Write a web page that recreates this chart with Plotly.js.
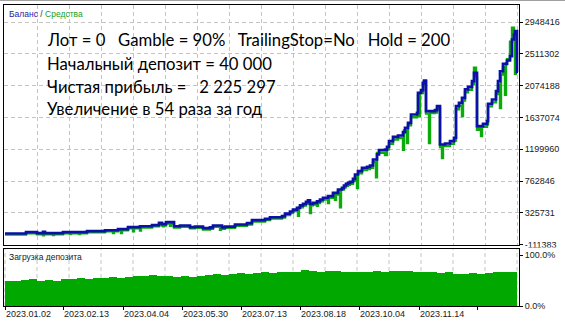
<!DOCTYPE html>
<html>
<head>
<meta charset="utf-8">
<script src="https://cdn.plot.ly/plotly-3.0.1.min.js"></script>
<style>html,body{margin:0;padding:0;background:#fff;}#chart{width:565px;height:323px;}</style>
</head>
<body>
<div id="chart"></div>
<script>
// ---- data (deal index -> account value) ----
const balDeal = [0,21,32,38,40,58,82,100,113,123,135,147,154,157,161,169,175,185,190,198,205,208,217,220,230,242,247,260,265,277,280,285,288,292,295,298,301,303,305,308,312,315,318,323,328,333,337,339,341,343,345,348,350,353,357,362,365,368,372,374,380,382,384,388,393,398,400,403,406,412,413,416,418,419,421,430,432,435,440,445,449,451,454,457,460,463,467,469,472,478,482,483,487,491,493,495,498,502,505,507,509,510,512,513];
const balance = [40000,58000,44000,62000,44000,58000,72000,85000,99000,127000,140000,154000,187000,168000,196000,140000,150000,127000,136000,113000,123000,150000,123000,136000,164000,182000,223000,242000,264000,278000,315000,343000,370000,394000,426000,449000,475000,498000,449000,463000,481000,508000,532000,554000,600000,646000,669000,701000,724000,738000,752000,793000,852000,898000,945000,958000,976000,1059000,1128000,1187000,1196000,1234000,1311000,1371000,1389000,1435000,1495000,1564000,1678000,1702000,1977000,2013000,2115000,2137000,1724000,1738000,1793000,1265000,1279000,1311000,1358000,1793000,1839000,1908000,2023000,2060000,2137000,2252000,1517000,1550000,1586000,1826000,1885000,1999000,2137000,2274000,2376000,2422000,2481000,2711000,2780000,2825000,2265297,2265297];

const eqDeal = [0,21,32,38,39,48,49,58,65,66,74,75,82,100,108,109,113,116,117,123,128,129,135,136,147,154,157,158,159,161,165,166,169,175,185,190,198,205,208,215,216,220,230,242,247,260,265,277,280,285,288,292,293,294,298,301,303,305,306,308,312,313,315,318,323,324,328,330,331,333,335,336,339,341,343,345,348,350,352,353,357,362,365,368,371,372,380,382,384,388,393,398,399,402,403,406,412,413,414,415,418,419,421,424,425,430,432,435,437,438,445,449,451,454,457,458,460,463,467,469,471,472,474,476,477,482,483,487,491,493,495,496,498,500,501,502,505,507,509,510,512,513];
const equity = [25000,42000,28000,15000,28000,19000,28000,42000,33000,42000,33000,42000,56000,70000,47000,70000,84000,47000,84000,110000,70000,110000,79000,122000,138000,165000,150000,139000,150000,178000,147000,178000,122000,132000,110000,118000,95000,105000,132000,92000,105000,118000,146000,164000,205000,224000,246000,258000,295000,322000,348000,370000,285000,400000,425000,452000,478000,322000,428000,440000,423000,458000,485000,508000,460000,530000,575000,505000,575000,620000,401000,645000,675000,698000,712000,725000,765000,820000,666000,868000,915000,928000,946000,1025000,814000,1150000,1121000,1200000,1275000,1335000,1355000,1194000,1460000,1286000,1530000,1640000,1665000,1940000,1658000,1975000,2090000,2150000,1690000,1286000,1700000,1705000,1760000,1230000,1080000,1245000,1275000,1320000,1750000,1800000,1658000,1870000,1985000,2020000,2100000,2321000,2200000,1469000,1490000,1383000,1510000,1545000,1790000,1845000,1960000,2090000,1768000,2230000,2330000,1951000,2380000,2440000,2680000,2872000,2790000,2240000,2240000];

// deposit load, %, one value per block of 8 deals
const depositLoad = [50,49,51,52,50,51,50,52,53,54,53,54,55,56,55,57,58,59,60,59,58,57,58,57,59,60,62,61,63,64,63,64,66,65,66,67,66,70,69,67,68,68,67,67,66,67,68,67,69,68,68,67,66,66,65,66,63,63,64,63,65,66,66,67];

const yTickVals = [-111383,325731,762846,1199960,1637074,2074188,2511302,2948416];
const yTickText = ['-111383','325731','762846','1199960','1637074','2074188','2511302','2948416'];
const dateTickDeal = [0,58,118,177,236,295,354,414,472];
const dateTickText = ['2023.01.02','2023.02.13','2023.04.04','2023.05.30','2023.07.13','2023.08.18','2023.10.04','2023.11.14',''];
const gridDeal = [0,32,64,96,128,160,192,224,256,288,320,352,384,416,448,480,512];

const textLines = [
  'Лот = 0\u00a0\u00a0\u00a0Gamble = 90%\u00a0\u00a0\u00a0TrailingStop=No\u00a0\u00a0\u00a0Hold = 200',
  'Начальный депозит = 40 000',
  'Чистая прибыль =\u00a0\u00a0\u00a02 225 297',
  'Увеличение в 54 раза за год'
];

// ---- layout helpers ----
const W = 565, H = 323;
const px = v => v / W;
const py = v => (H - v) / H;
const BLUE = '#0c10a8', GREEN = '#0aab0a', GRID = '#c4c4c4';

const loadX = depositLoad.map((_, i) => i * 8 + 4);

const traces = [
  {x: eqDeal, y: equity, type: 'scatter', mode: 'lines', line: {shape: 'hv', color: GREEN, width: 2.4}, xaxis: 'x', yaxis: 'y', hoverinfo: 'skip'},
  {x: balDeal, y: balance, type: 'scatter', mode: 'lines', line: {shape: 'hv', color: BLUE, width: 2.7}, xaxis: 'x', yaxis: 'y', hoverinfo: 'skip'},
  {x: loadX, y: depositLoad, type: 'bar', width: 8, marker: {color: '#00a800', line: {width: 0}}, xaxis: 'x2', yaxis: 'y2', hoverinfo: 'skip'}
];

const tickFont = {family: 'Liberation Sans, Arial, sans-serif', size: 9, color: '#1a1a1a'};
const xDom = [px(4), px(519)];

const shapes = gridDeal.map(g => ({type: 'line', xref: 'x2', yref: 'y2 domain', x0: g, x1: g, y0: 0, y1: 1, line: {color: GRID, width: 1, dash: '4px,3px'}, layer: 'below'}));
shapes.push({type: 'line', xref: 'paper', yref: 'paper', x0: 0, x1: 1, y0: py(0.5), y1: py(0.5), line: {color: '#a0a0a0', width: 1}});
shapes.push({type: 'rect', xref: 'paper', yref: 'paper', x0: px(520), x1: 1, y0: py(250.5), y1: py(247.5), fillcolor: '#ffffff', line: {width: 0}, layer: 'above'});

const annotations = [
  {xref: 'paper', yref: 'paper', x: px(7), y: py(14), xanchor: 'left', yanchor: 'middle', showarrow: false,
   text: '<span style="color:#1c1ca0">Баланс</span> / <span style="color:#18a018">Средства</span>',
   font: {family: 'Liberation Sans, Arial, sans-serif', size: 8.5, color: '#333'}},
  {xref: 'paper', yref: 'paper', x: px(7), y: py(257), xanchor: 'left', yanchor: 'middle', showarrow: false,
   text: 'Загрузка депозита', font: {family: 'Liberation Sans, Arial, sans-serif', size: 8.5, color: '#1a1a1a'}}
];
const lineY = [40, 64, 87, 109];
textLines.forEach((t, i) => annotations.push({
  xref: 'paper', yref: 'paper', x: px(45), y: py(lineY[i]), xanchor: 'left', yanchor: 'middle', showarrow: false,
  text: t, font: {family: 'Lato, sans-serif', size: 16.7, color: '#000'}
}));

const layout = {
  width: W, height: H,
  margin: {l: 0, r: 0, t: 0, b: 0},
  paper_bgcolor: '#fff', plot_bgcolor: '#fff',
  showlegend: false,
  bargap: 0,
  xaxis: {domain: xDom, anchor: 'y', range: [-1, 514], tickmode: 'array', tickvals: gridDeal, showticklabels: false, ticks: '',
          showgrid: true, gridcolor: GRID, griddash: '4px,3px', gridwidth: 1, zeroline: false,
          showline: true, linecolor: '#000', linewidth: 1, mirror: true, automargin: false, fixedrange: true},
  yaxis: {domain: [py(245), py(5)], anchor: 'x', side: 'right', range: [-118267, 3185813], tickmode: 'array', tickvals: yTickVals, ticktext: yTickText,
          ticks: 'outside', ticklen: 3, tickcolor: '#000', tickfont: tickFont, showgrid: true, gridcolor: GRID, griddash: '4px,3px', gridwidth: 1,
          zeroline: false, showline: true, linecolor: '#000', linewidth: 1, mirror: true, automargin: false, fixedrange: true},
  xaxis2: {domain: xDom, anchor: 'y2', range: [-1, 514], tickmode: 'array', tickvals: dateTickDeal, ticktext: dateTickText,
           ticks: 'outside', ticklen: 3, tickcolor: '#000', tickfont: tickFont, ticklabelposition: 'outside right', ticklabelstandoff: -1,
           showgrid: false, zeroline: false,
           showline: true, linecolor: '#000', linewidth: 1, mirror: true, automargin: false, fixedrange: true},
  yaxis2: {domain: [py(306), py(249)], anchor: 'x2', side: 'right', range: [0, 111.8], tickmode: 'array', tickvals: [0, 100], ticktext: ['0.0%', '100.0%'],
           ticks: 'outside', ticklen: 3, tickcolor: '#000', tickfont: tickFont, showgrid: false, zeroline: false,
           showline: true, linecolor: '#000', linewidth: 1, mirror: true, automargin: false, fixedrange: true},
  shapes: shapes,
  annotations: annotations
};

Plotly.newPlot('chart', traces, layout, {staticPlot: true, displayModeBar: false});
</script>
</body>
</html>
